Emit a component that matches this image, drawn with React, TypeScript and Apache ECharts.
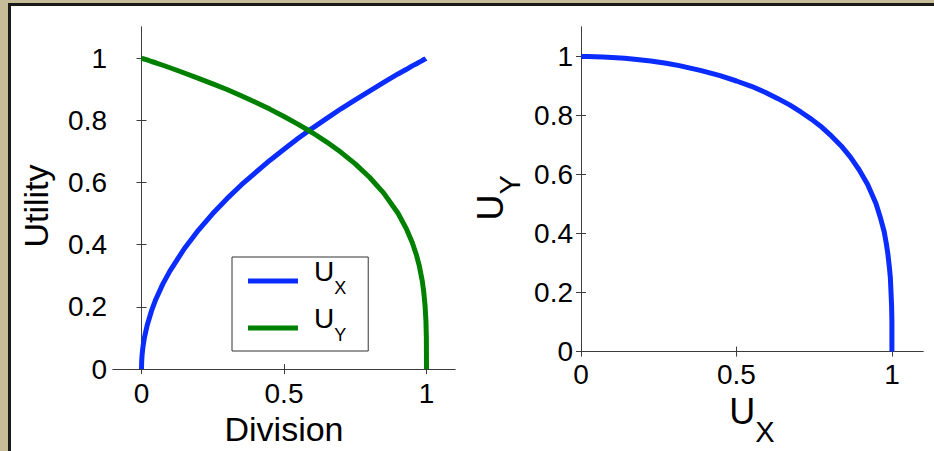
import React, { useEffect, useRef } from 'react';
import * as echarts from 'echarts';

// Division of the good (share given to X) and the resulting utilities
const division = [0, 0.0005, 0.002, 0.005, 0.01, 0.02, 0.035, 0.05, 0.075, 0.1, 0.15, 0.2, 0.25, 0.3, 0.35, 0.4, 0.45, 0.5, 0.55, 0.6, 0.65, 0.7, 0.75, 0.8, 0.85, 0.9, 0.93, 0.95, 0.965, 0.975, 0.985, 0.99, 0.995, 0.998, 0.9995, 1];
const utilityX = [0, 0.022, 0.045, 0.071, 0.1, 0.141, 0.187, 0.224, 0.274, 0.316, 0.387, 0.447, 0.5, 0.548, 0.592, 0.632, 0.671, 0.707, 0.742, 0.775, 0.806, 0.837, 0.866, 0.894, 0.922, 0.949, 0.964, 0.975, 0.982, 0.987, 0.992, 0.995, 0.997, 0.999, 1, 1];
const utilityY = [1, 1, 0.999, 0.998, 0.997, 0.994, 0.989, 0.985, 0.977, 0.969, 0.952, 0.935, 0.917, 0.899, 0.879, 0.858, 0.836, 0.812, 0.787, 0.76, 0.73, 0.697, 0.66, 0.617, 0.566, 0.501, 0.45, 0.407, 0.366, 0.331, 0.284, 0.251, 0.204, 0.155, 0.102, 0];

// Tick labels
const leftXTicks = [0, 0.5, 1];
const rightXTicks = [0, 0.5, 1];
const yTicks = [0, 0.2, 0.4, 0.6, 0.8, 1];

const FONT = "'Liberation Sans', Arial, Helvetica, sans-serif";
const AXIS = '#3c3c3c';
const BLUE = '#0a2cff';
const GREEN = '#008000';

function axis(gridIndex: number, position: string, min: number, max: number, ticks: number[], labels: boolean, margin = 8) {
  return {
    type: 'value',
    gridIndex,
    position,
    min,
    max,
    axisLine: { show: true, lineStyle: { color: AXIS, width: 1 } },
    axisTick: { show: true, inside: true, length: 5, customValues: ticks, lineStyle: { color: AXIS, width: 1 } },
    axisLabel: {
      show: labels,
      customValues: ticks,
      margin,
      fontSize: 28,
      fontFamily: FONT,
      color: '#000',
    },
    splitLine: { show: false },
  } as any;
}

// Rich text styles for "U" with a subscript
const subRich = (uSize: number, sSize: number, pad: number) => ({
  u: { fontSize: uSize, height: uSize, fontFamily: FONT, color: '#000', verticalAlign: 'top' },
  s: { fontSize: sSize, height: sSize, fontFamily: FONT, color: '#000', verticalAlign: 'top', padding: [pad, 0, 0, 0] },
});

export default function App() {
  const ref = useRef<HTMLDivElement>(null);

  useEffect(() => {
    if (!ref.current) return;
    const chart = echarts.init(ref.current, null, { renderer: 'svg' });

    const xAxis = [
      {
        ...axis(0, 'bottom', -0.1, 1.1, leftXTicks, true, 10),
        name: 'Division',
        nameLocation: 'middle',
        nameGap: 39,
        nameTextStyle: { fontSize: 34, fontFamily: FONT, color: '#000' },
      },
      axis(0, 'top', -0.1, 1.1, leftXTicks, false),
      {
        ...axis(1, 'bottom', 0, 1.1, rightXTicks, true, 9),
        name: '{u|U}{s|X}',
        nameLocation: 'middle',
        nameGap: 28,
        nameTextStyle: { rich: subRich(36, 29, 23.5) },
      },
      axis(1, 'top', 0, 1.1, rightXTicks, false),
    ];

    const yAxis = [
      {
        ...axis(0, 'left', 0, 1.1, yTicks, true, 6),
        name: 'Utility',
        nameLocation: 'middle',
        nameGap: 60,
        nameTextStyle: { fontSize: 34, fontFamily: FONT, color: '#000', padding: [0, 16, 0, 0] },
      },
      axis(0, 'right', 0, 1.1, yTicks, false),
      {
        ...axis(1, 'left', 0, 1.1, yTicks, true, 8),
        name: '{u|U}{s|Y}',
        nameLocation: 'middle',
        nameGap: 56.5,
        nameTextStyle: { rich: subRich(36, 29, 23.5), padding: [0, 17, 0, 0] },
      },
      axis(1, 'right', 0, 1.1, yTicks, false),
    ];

    const line = (color: string) => ({
      type: 'line',
      showSymbol: false,
      symbol: 'none',
      lineStyle: { width: 5, color, join: 'round' },
      itemStyle: { color },
    });

    chart.setOption({
      animation: false,
      backgroundColor: 'transparent',
      grid: [
        { left: 113, top: 27, width: 342, height: 343, containLabel: false },
        { left: 581, top: 27, width: 342, height: 343, containLabel: false },
      ],
      xAxis,
      yAxis,
      legend: {
        orient: 'vertical',
        left: 232,
        top: 257,
        padding: [0, 22, 7, 16],
        itemGap: 7,
        itemWidth: 50,
        itemHeight: 5,
        icon: 'rect',
        selectedMode: false,
        borderColor: '#333',
        borderWidth: 1,
        backgroundColor: '#fff',
        data: ['U_X', 'U_Y'],
        formatter: (name: string) => (name === 'U_X' ? '{u|U}{s|X}' : '{u|U}{s|Y}'),
        textStyle: {
          rich: {
            u: { fontSize: 28, height: 16, fontFamily: FONT, color: '#000', verticalAlign: 'top', padding: [0, 0, 0, 11] },
            s: { fontSize: 18, height: 14, fontFamily: FONT, color: '#000', verticalAlign: 'top', padding: [18, 0, 4, 0] },
          },
        },
      },
      series: [
        {
          ...line(BLUE),
          name: 'U_X',
          xAxisIndex: 0,
          yAxisIndex: 0,
          data: division.map((d, i) => [d, utilityX[i]]),
        },
        {
          ...line(GREEN),
          name: 'U_Y',
          xAxisIndex: 0,
          yAxisIndex: 0,
          data: division.map((d, i) => [d, utilityY[i]]),
        },
        {
          ...line(BLUE),
          name: 'frontier',
          xAxisIndex: 2,
          yAxisIndex: 2,
          data: utilityX.map((u, i) => [u, utilityY[i]]),
        },
      ],
    } as any);

    return () => chart.dispose();
  }, []);

  return (
    <div style={{ position: 'absolute', left: 0, top: 0, width: 934, height: 451, background: '#c6bc97', overflow: 'hidden' }}>
      <div
        style={{
          position: 'absolute',
          left: 8,
          top: 3,
          right: -10,
          bottom: -10,
          background: '#fff',
          borderTop: '3px solid #1a1a1a',
          borderLeft: '3px solid #1a1a1a',
        }}
      />
      <div ref={ref} style={{ position: 'absolute', left: 0, top: 0, width: 934, height: 451 }} />
    </div>
  );
}
